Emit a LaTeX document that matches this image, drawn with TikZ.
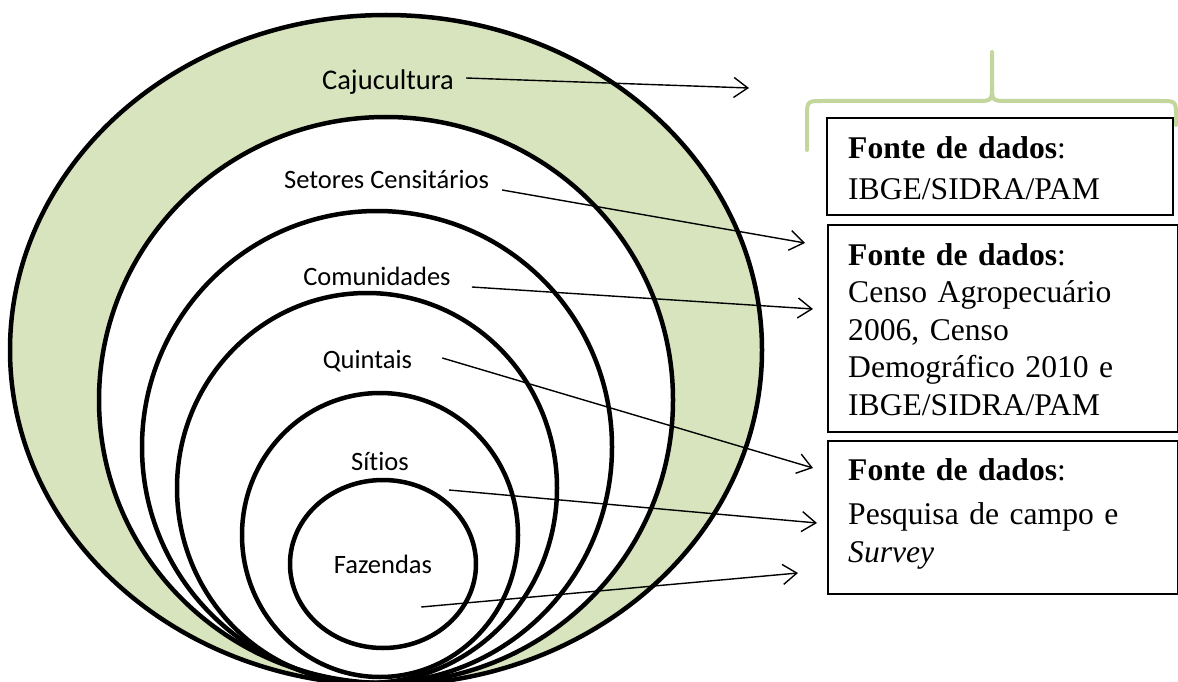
\documentclass[tikz,border=0pt]{standalone}
\usepackage{fontspec}
\setmainfont{Liberation Serif}
\newfontfamily\calib[Ligatures=NoCommon]{Carlito}
\usetikzlibrary{arrows.meta}
\definecolor{ringgreen}{HTML}{D7E4BD}
\definecolor{bracegreen}{HTML}{C3D69B}
\begin{document}
\begin{tikzpicture}[x=1pt,y=-1pt,
  eline/.style={line width=4.5pt},
  lbl/.style={font=\calib\fontsize{26.5}{30}\selectfont, inner sep=0pt, anchor=base},
  conn/.style={line width=1.4pt, -{Straight Barb[length=14pt,width=20pt]}},
  srcbox/.style={draw, line width=1.8pt, anchor=north west, inner sep=0pt},
  srctext/.style={font=\fontsize{31.6}{37.5}\selectfont, anchor=base west, inner sep=0pt, text width=320pt, align=left},
  bracepath/.style={draw=bracegreen, line width=4pt, line cap=round, line join=round}]
\useasboundingbox (0,0) rectangle (1178,682);

% nested ellipses
\draw[eline, fill=ringgreen] (386,350) ellipse [x radius=376pt, y radius=335pt];
\draw[eline, fill=white] (386,400) ellipse [x radius=287pt, y radius=283pt];
\draw[eline] (377,447) ellipse [x radius=235pt, y radius=236pt];
\draw[eline] (367,488) ellipse [x radius=190pt, y radius=195pt];
\draw[eline] (380,535) ellipse [x radius=138pt, y radius=142pt];
\draw[eline] (383,564) ellipse [x radius=93pt, y radius=84pt];

% labels
\node[lbl, font=\calib\fontsize{28.5}{32}\selectfont] (caju) at (388,90) {Cajucultura};
\node[lbl] (setores) at (386.5,189) {Setores Censitários};
\node[lbl] (comun) at (377,285) {Comunidades};
\node[lbl] (quint) at (367.5,368) {Quintais};
\node[lbl] (sitios) at (380,470) {Sítios};
\node[lbl] (faz) at (383,573) {Fazendas};

% source boxes
\node[srcbox, minimum width=346pt, minimum height=97pt] (b1) at (826,117) {};
\node[srcbox, minimum width=350pt, minimum height=207pt] (b2) at (827,224) {};
\node[srcbox, minimum width=350pt, minimum height=153pt] (b3) at (827,440) {};
\node[srctext] (t1) at (848,158) {\textbf{Fonte de dados}:\\[4pt] IBGE/SIDRA/PAM};
\node[srctext] (t2) at (848,265) {\textbf{Fonte de dados}:\\ Censo Agropecuário\\ 2006, Censo\\ Demográfico 2010 e\\ IBGE/SIDRA/PAM};
\node[srctext] (t3) at (848,480) {\textbf{Fonte de dados}:\\[7pt] Pesquisa de campo e\\ \textit{Survey}};

% arrow ends
\coordinate (e1) at (749,88);
\coordinate (e2) at (805,243);
\coordinate (e3) at (813,309);
\coordinate (e4) at (813,468);
\coordinate (e5) at (817,523);
\coordinate (e6) at (798,573);

% connectors
\draw[conn] ([xshift=12pt,yshift=12pt]caju.base east) -- (e1);
\draw[conn] ([xshift=13pt,yshift=-1pt]setores.base east) -- (e2);
\draw[conn] ([xshift=21pt,yshift=-2pt]comun.base east) -- (e3);
\draw[conn] ([xshift=30pt,yshift=10pt]quint.base east) -- (e4);
\draw[conn] ([xshift=40pt,yshift=-20pt]sitios.base east) -- (e5);
\draw[conn] ([xshift=-11pt,yshift=-34pt]faz.base east) -- (e6);

% brace
\draw[bracepath] (807,150) -- (807,117) .. controls (807,101) .. (823,101) -- (976,101) .. controls (992,101) .. (992,85) -- (992,52);
\draw[bracepath] (992,85) .. controls (992,101) .. (1008,101) -- (1160,101) .. controls (1176,101) .. (1176,117) -- (1176,125);
\end{tikzpicture}
\end{document}
